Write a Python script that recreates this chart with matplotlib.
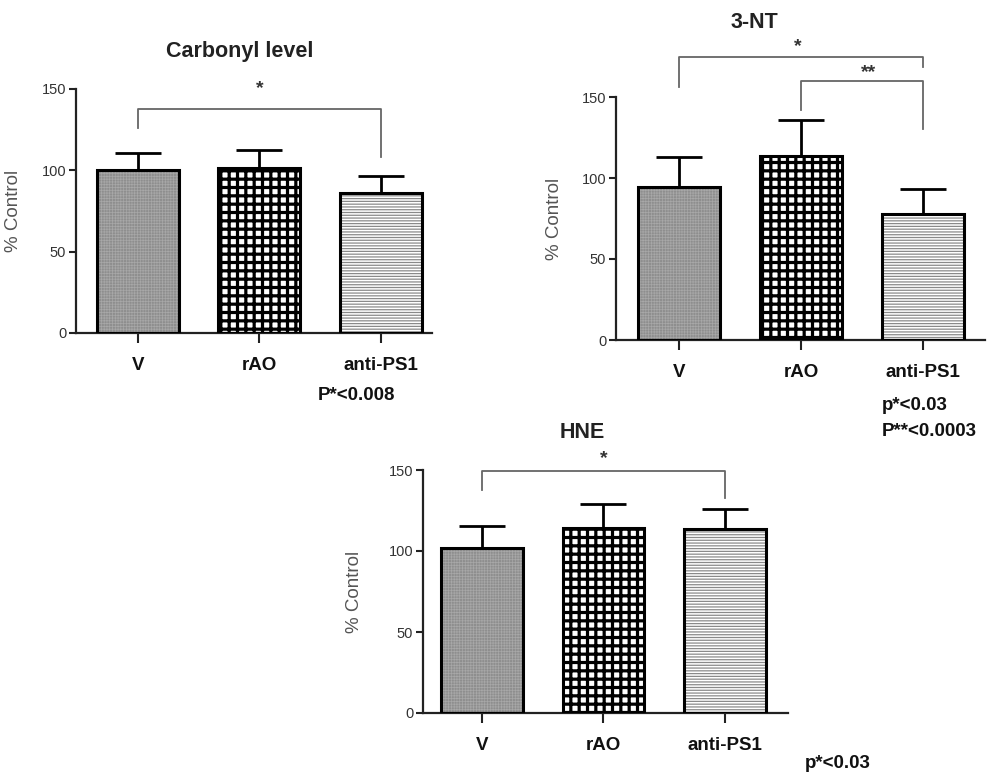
import matplotlib
matplotlib.use("Agg")
import matplotlib.pyplot as plt
import numpy as np

plt.rcParams['font.family'] = ['Liberation Sans', 'DejaVu Sans']

# ---- data ----
categories = ["V", "rAO", "anti-PS1"]
carbonyl_mean = [100, 101.5, 86]
carbonyl_err = [10.5, 11, 10.5]
nt_mean = [94.5, 113.5, 77.5]
nt_err = [18.5, 22.5, 15.5]
hne_mean = [102, 114, 113.5]
hne_err = [13.5, 15, 12.5]
yticks = [0, 50, 100, 150]

W, H = 993, 775
fig = plt.figure(figsize=(W / 100, H / 100), dpi=100)


def px_axes(left, right, bottom, top):
    return fig.add_axes([left / W, 1 - bottom / H, (right - left) / W, (bottom - top) / H])


def fx(x):
    return x / W


def fy(y):
    return 1 - y / H


styles = [
    dict(face='#8e8e8e', hatch='++++++', hcol='#a8a8a8', hlw=0.5),
    dict(face='white', hatch='++', hcol='black', hlw=2.3),
    dict(face='white', hatch='------', hcol='#8a8a8a', hlw=0.9),
]


def panel(ax, means, errs, xlim, ylab_x):
    x = np.arange(len(categories))
    width = 0.675
    for i in range(len(categories)):
        st = styles[i]
        b = ax.bar(x[i], means[i], width, color=st['face'], edgecolor=st['hcol'],
                   hatch=st['hatch'], linewidth=0, zorder=2)
        for p in b:
            if hasattr(p, 'set_hatch_linewidth'):
                p.set_hatch_linewidth(st['hlw'])
        ax.bar(x[i], means[i], width, fill=False, edgecolor='black', linewidth=2.2, zorder=3)
    ax.errorbar(x, means, yerr=[np.zeros(len(errs)), errs], fmt='none', ecolor='black',
                elinewidth=2, capsize=16.5, capthick=2, zorder=4)
    ax.set_xlim(*xlim)
    ax.set_ylim(0, 150)
    ax.set_yticks(yticks)
    ax.set_xticks(x)
    ax.set_xticklabels(categories, fontsize=13.5, fontweight='bold', color='#111')
    ax.tick_params(axis='x', length=7, width=1.5, pad=10, color='#222')
    ax.tick_params(axis='y', length=5, width=1.5, labelsize=10.5, labelcolor='#333', color='#222', pad=2)
    for s in ['top', 'right']:
        ax.spines[s].set_visible(False)
    for s in ['left', 'bottom']:
        ax.spines[s].set_linewidth(1.6)
        ax.spines[s].set_color('#222')
    ax.set_ylabel('% Control', fontsize=13.5, color='#555')
    ax.yaxis.set_label_coords(ylab_x, 0.5)


def bracket(ax, x1, x2, y, yl1, yl2, text, tx, ty):
    ax.plot([x1, x1, x2, x2], [yl1, y, y, yl2], color='#666', lw=1.3, clip_on=False, zorder=5)
    ax.text(tx, ty, text, ha='center', va='center', fontsize=14, fontweight='bold',
            color='#333', clip_on=False)


# Panel 1: Carbonyl level
ax1 = px_axes(76, 432, 333, 89)
panel(ax1, carbonyl_mean, carbonyl_err, (-0.510, 2.420), -0.152)
bracket(ax1, 0, 2, 137.7, 126, 108, '*', 1, 150)
fig.text(fx(240), fy(52), 'Carbonyl level', ha='center', va='center', fontsize=15.5,
         fontweight='bold', color='#222')
fig.text(fx(318), fy(395), 'P*<0.008', ha='left', va='center', fontsize=13.5,
         fontweight='bold', color='#111')

# Panel 2: 3-NT
ax2 = px_axes(616, 985, 340, 97)
panel(ax2, nt_mean, nt_err, (-0.516, 2.508), -0.144)
bracket(ax2, 0, 2, 174.7, 156, 168.5, '*', 0.97, 181)
bracket(ax2, 1, 2, 160, 142, 130, '**', 1.55, 165)
fig.text(fx(754), fy(23), '3-NT', ha='center', va='center', fontsize=15.5,
         fontweight='bold', color='#222')
fig.text(fx(882), fy(405), 'p*<0.03', ha='left', va='center', fontsize=13.5,
         fontweight='bold', color='#111')
fig.text(fx(882), fy(431), 'P**<0.0003', ha='left', va='center', fontsize=13.5,
         fontweight='bold', color='#111')

# Panel 3: HNE
ax3 = px_axes(423, 788, 713, 470)
panel(ax3, hne_mean, hne_err, (-0.486, 2.519), -0.164)
bracket(ax3, 0, 2, 149.4, 137.6, 132.7, '*', 1, 157)
fig.text(fx(582), fy(433), 'HNE', ha='center', va='center', fontsize=15.5,
         fontweight='bold', color='#222')
fig.text(fx(805), fy(763), 'p*<0.03', ha='left', va='center', fontsize=13.5,
         fontweight='bold', color='#111')

fig.savefig('out.png', dpi=100)
